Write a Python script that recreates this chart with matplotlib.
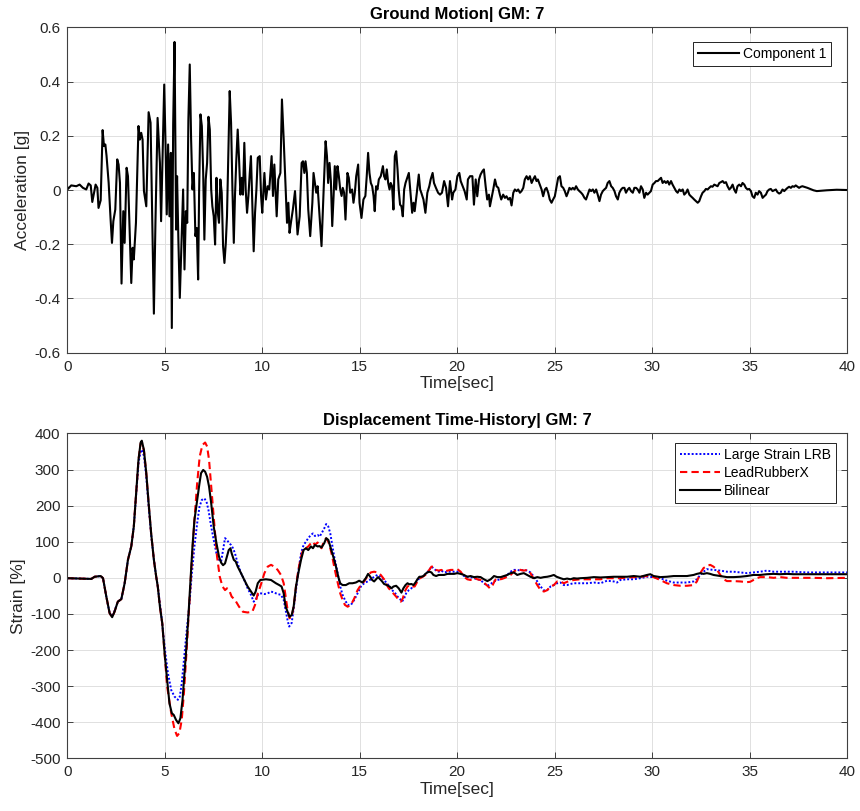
import numpy as np
import matplotlib
matplotlib.use("Agg")
import matplotlib.pyplot as plt

plt.rcParams['font.family'] = ['Liberation Sans', 'DejaVu Sans']
plt.rcParams['axes.unicode_minus'] = False

# ground motion record, GM 7, component 1: (time [s], acceleration [g])
gm_strong = [
    (0.00, 0.010), (0.03, 0.004), (0.20, 0.017), (0.46, 0.014), (0.63, 0.020), (0.80, 0.008),
    (0.97, 0.002), (1.09, 0.024), (1.20, 0.017), (1.28, -0.044), (1.37, -0.010), (1.45, 0.020),
    (1.54, 0.008), (1.60, -0.066), (1.71, -0.038), (1.81, 0.221), (1.88, 0.162), (1.95, 0.168),
    (2.01, 0.127), (2.12, 0.026), (2.22, -0.109), (2.29, -0.195), (2.36, -0.115), (2.46, -0.072),
    (2.56, 0.113), (2.63, 0.094), (2.70, 0.026), (2.78, -0.345), (2.87, -0.078), (2.94, -0.195),
    (3.04, 0.082), (3.11, 0.051), (3.19, -0.133), (3.28, -0.343), (3.35, -0.213), (3.41, -0.256),
    (3.52, -0.121), (3.65, 0.236), (3.72, 0.186), (3.79, 0.211), (3.86, 0.186), (3.93, -0.004),
    (4.05, -0.060), (4.17, 0.287), (4.27, 0.248), (4.44, -0.456), (4.52, -0.121), (4.63, 0.266),
    (4.75, 0.100), (4.81, -0.115), (4.90, 0.174), (4.97, 0.389), (5.04, 0.162), (5.10, -0.090),
    (5.17, 0.168), (5.24, -0.097), (5.31, 0.137), (5.36, -0.509), (5.43, 0.242), (5.50, 0.546),
    (5.58, -0.146), (5.63, 0.051), (5.70, -0.195), (5.77, -0.398), (5.87, -0.170), (5.94, 0.002),
    (6.01, -0.293), (6.08, -0.078), (6.15, -0.121), (6.21, 0.260), (6.28, 0.463), (6.35, 0.186),
    (6.42, 0.002), (6.49, 0.063), (6.57, -0.170), (6.64, -0.140), (6.71, -0.330), (6.76, -0.010),
    (6.83, 0.279), (6.90, 0.236), (6.97, 0.063), (7.03, -0.183), (7.10, 0.039), (7.17, 0.100),
    (7.24, 0.270), (7.31, 0.223), (7.38, 0.002), (7.44, -0.060), (7.51, -0.097), (7.58, -0.201),
    (7.65, 0.045), (7.72, -0.084), (7.78, -0.121), (7.85, 0.039), (7.92, -0.010), (7.99, -0.207),
    (8.06, -0.269), (8.13, -0.195), (8.19, -0.097), (8.26, 0.125), (8.33, 0.365), (8.40, 0.248),
    (8.47, 0.002), (8.54, -0.195), (8.60, -0.022), (8.67, 0.113), (8.74, 0.223), (8.81, 0.113),
    (8.88, -0.017), (8.95, 0.045), (9.01, -0.017), (9.08, 0.174), (9.15, 0.002), (9.22, -0.084),
    (9.29, -0.022), (9.36, 0.063), (9.42, 0.125), (9.49, -0.047), (9.56, -0.226), (9.63, -0.084),
    (9.70, 0.002), (9.77, 0.119), (9.87, 0.125), (9.94, -0.022),
]
gm_mid = [
    (10.00, -0.084), (10.11, 0.063), (10.19, -0.035), (10.28, 0.014), (10.36, 0.002), (10.48, 0.125),
    (10.55, -0.022), (10.62, 0.094), (10.74, -0.097), (10.82, 0.039), (10.93, 0.063), (11.01, 0.334),
    (11.10, 0.186), (11.20, 0.002), (11.27, -0.121), (11.34, -0.047), (11.40, -0.158), (11.47, -0.121),
    (11.57, -0.072), (11.68, -0.004), (11.75, -0.090), (11.81, -0.164), (11.92, -0.097), (12.02, 0.100),
    (12.09, 0.106), (12.16, 0.063), (12.22, 0.106), (12.29, 0.063), (12.36, -0.072), (12.46, -0.170),
    (12.57, -0.047), (12.63, 0.063), (12.70, 0.026), (12.77, -0.010), (12.84, 0.014), (12.94, -0.097),
    (13.04, -0.207), (13.15, 0.002), (13.25, 0.180), (13.32, 0.125), (13.38, 0.026), (13.45, 0.100),
    (13.52, 0.033), (13.59, -0.133), (13.66, -0.022), (13.72, 0.088), (13.79, 0.002), (13.86, 0.088),
    (13.93, 0.051), (14.00, 0.002), (14.07, -0.022), (14.13, 0.008), (14.20, -0.010), (14.27, -0.109),
    (14.37, 0.063), (14.44, 0.045), (14.51, -0.010), (14.61, 0.002), (14.68, -0.047), (14.75, -0.010),
    (14.82, 0.051), (14.92, 0.094), (14.99, -0.047), (15.09, -0.103), (15.19, -0.035), (15.29, -0.022),
    (15.36, 0.051), (15.43, 0.137), (15.50, 0.063), (15.57, 0.026), (15.64, 0.014), (15.71, -0.022),
    (15.77, -0.078), (15.84, 0.014), (15.91, 0.002), (15.98, 0.039), (16.08, 0.051), (16.19, 0.088),
    (16.25, 0.051), (16.32, 0.039), (16.39, 0.076), (16.46, 0.026), (16.53, 0.002), (16.59, 0.026),
    (16.66, 0.014), (16.73, -0.072), (16.80, 0.125), (16.87, 0.143), (16.94, 0.076), (17.00, 0.002),
    (17.07, -0.054), (17.14, -0.060), (17.21, -0.097), (17.28, 0.002), (17.35, 0.026), (17.41, 0.039),
    (17.52, 0.063), (17.59, 0.002), (17.69, -0.084), (17.76, -0.047), (17.82, -0.078), (17.93, -0.010),
    (18.03, 0.057), (18.10, 0.002), (18.16, -0.010), (18.27, -0.035), (18.37, -0.084), (18.47, -0.010),
    (18.57, 0.014), (18.64, 0.039), (18.74, 0.063), (18.81, 0.026), (18.91, 0.008), (19.02, -0.010),
    (19.12, -0.017), (19.22, -0.010), (19.33, 0.033), (19.43, 0.008), (19.53, -0.060), (19.63, 0.033),
    (19.74, -0.035), (19.80, -0.010), (19.91, 0.002), (20.01, 0.051), (20.11, 0.063), (20.18, 0.033),
    (20.28, 0.014), (20.38, -0.004), (20.49, -0.035), (20.55, 0.039), (20.66, 0.051),
]
gm_tail = [
    (20.78, 0.051), (20.86, -0.054), (20.95, 0.039), (21.03, -0.023), (21.12, 0.039), (21.20, 0.057),
    (21.29, 0.069), (21.37, 0.076), (21.46, 0.014), (21.54, -0.035), (21.63, -0.017), (21.68, -0.060),
    (21.75, -0.035), (21.85, 0.002), (21.94, 0.039), (22.02, 0.014), (22.11, 0.008), (22.19, -0.017),
    (22.26, -0.035), (22.36, -0.017), (22.45, -0.029), (22.53, -0.023), (22.62, -0.035), (22.71, -0.029),
    (22.79, -0.057), (22.88, -0.010), (22.96, 0.002), (23.05, -0.004), (23.13, 0.002), (23.22, -0.010),
    (23.30, -0.004), (23.39, 0.008), (23.47, 0.039), (23.56, 0.051), (23.64, 0.039), (23.73, 0.051),
    (23.82, 0.026), (23.90, 0.039), (23.99, 0.051), (24.07, 0.033), (24.14, 0.039), (24.24, 0.020),
    (24.33, 0.002), (24.41, -0.023), (24.50, 0.002), (24.58, 0.008), (24.67, -0.010), (24.75, -0.035),
    (24.84, -0.047), (24.92, -0.035), (25.01, -0.023), (25.10, 0.014), (25.18, 0.045), (25.27, 0.051),
    (25.35, 0.014), (25.44, 0.008), (25.52, -0.004), (25.61, -0.023), (25.68, -0.010), (25.76, 0.008),
    (25.85, 0.002), (25.93, 0.008), (26.02, 0.002), (26.10, 0.014), (26.19, 0.002), (26.27, -0.004),
    (26.36, -0.010), (26.44, -0.017), (26.53, -0.029), (26.61, -0.035), (26.70, -0.017), (26.79, 0.002),
    (26.87, -0.004), (26.96, 0.002), (27.04, -0.010), (27.13, 0.002), (27.21, -0.017), (27.30, -0.041),
    (27.38, -0.017), (27.47, -0.004), (27.55, 0.002), (27.64, 0.008), (27.72, 0.026), (27.81, 0.033),
    (27.90, 0.014), (27.98, 0.008), (28.07, -0.004), (28.15, -0.023), (28.24, -0.035), (28.32, -0.010),
    (28.41, 0.002), (28.49, 0.008), (28.58, 0.008), (28.66, -0.010), (28.75, 0.002), (28.83, 0.008),
    (28.92, -0.004), (29.01, -0.010), (29.09, 0.008), (29.18, 0.008), (29.26, 0.002), (29.35, -0.010),
    (29.43, 0.014), (29.52, 0.002), (29.60, -0.029), (29.69, -0.010), (29.77, -0.017), (29.86, -0.010),
    (29.94, -0.004), (30.03, 0.020), (30.12, 0.026), (30.20, 0.033), (30.29, 0.033), (30.37, 0.039),
    (30.46, 0.045), (30.54, 0.026), (30.63, 0.033), (30.71, 0.026), (30.80, 0.033), (30.88, 0.020),
    (30.97, 0.033), (31.05, 0.020), (31.14, 0.008), (31.23, -0.004), (31.31, -0.010), (31.40, 0.002),
    (31.48, -0.004), (31.57, 0.002), (31.65, -0.017), (31.74, -0.010), (31.82, 0.002), (31.91, -0.017),
    (31.99, -0.023), (32.08, -0.029), (32.16, -0.035), (32.25, -0.041), (32.34, -0.047), (32.42, -0.041),
    (32.51, -0.023), (32.59, -0.010), (32.68, -0.004), (32.76, 0.004), (32.85, 0.002), (32.93, 0.008),
    (33.02, 0.014), (33.10, 0.012), (33.19, 0.020), (33.27, 0.017), (33.36, 0.014), (33.45, 0.026),
    (33.53, 0.029), (33.62, 0.033), (33.70, 0.026), (33.79, 0.029), (33.87, 0.014), (33.96, 0.002),
    (34.04, 0.008), (34.13, 0.020), (34.21, 0.002), (34.30, -0.010), (34.38, 0.014), (34.47, 0.020),
    (34.56, 0.014), (34.64, 0.026), (34.73, 0.020), (34.81, 0.008), (34.90, 0.002), (34.98, 0.004),
    (35.07, -0.004), (35.15, -0.023), (35.24, -0.029), (35.32, -0.010), (35.41, -0.017), (35.49, -0.004),
    (35.58, -0.010), (35.67, -0.029), (35.75, -0.023), (35.84, -0.017), (35.92, -0.004), (36.01, 0.002),
    (36.09, 0.004), (36.18, -0.004), (36.26, -0.001), (36.35, 0.002), (36.43, -0.008), (36.52, -0.013),
    (36.60, -0.010), (36.69, 0.002), (36.78, -0.004), (36.86, 0.002), (36.95, 0.008), (37.03, 0.012),
    (37.12, 0.008), (37.20, 0.014), (37.29, 0.012), (37.37, 0.017), (37.46, 0.012), (37.54, 0.008),
    (37.63, 0.012), (37.71, 0.014), (37.80, 0.012), (37.89, 0.010), (37.97, 0.008), (38.11, 0.004),
    (38.28, -0.001), (38.45, -0.004), (38.62, -0.003), (38.96, -0.001), (39.47, 0.001), (40.00, 0.000),
]

# isolator shear strain histories: (time [s], strain [%])
strain_lrb = [
    (0.00, -1), (0.72, -2), (1.23, -3), (1.40, 3), (1.71, 5), (1.83, -1), (2.00, -52), (2.17, -98),
    (2.30, -107), (2.42, -92), (2.59, -66), (2.77, -59), (2.94, -15), (3.11, 50), (3.28, 87), (3.41, 142),
    (3.53, 230), (3.65, 318), (3.76, 350), (3.82, 355), (3.93, 338), (4.05, 280), (4.17, 200), (4.30, 120),
    (4.44, 50), (4.56, 3), (4.64, -24), (4.81, -98), (4.99, -191), (5.16, -264), (5.33, -311), (5.50, -329),
    (5.67, -338), (5.77, -329), (5.87, -292), (5.98, -228), (6.11, -154), (6.25, -80), (6.39, 13), (6.52, 87),
    (6.66, 151), (6.78, 197), (6.90, 216), (7.03, 220), (7.14, 211), (7.24, 188), (7.38, 142), (7.51, 105),
    (7.65, 68), (7.78, 50), (7.89, 45), (7.99, 77), (8.09, 110), (8.19, 105), (8.30, 96), (8.40, 91),
    (8.50, 82), (8.60, 68), (8.74, 40), (8.91, 13), (9.08, -6), (9.25, -29), (9.42, -47), (9.56, -66),
    (9.66, -61), (9.80, -45), (9.94, -43), (10.11, -45), (10.28, -43), (10.45, -38), (10.62, -41),
    (10.79, -45), (10.96, -47), (11.10, -61), (11.20, -89), (11.30, -118), (11.38, -135), (11.51, -125),
    (11.61, -85), (11.73, -34), (11.85, 17), (11.99, 68), (12.12, 91), (12.24, 100), (12.36, 110),
    (12.50, 119), (12.60, 123), (12.70, 116), (12.84, 119), (12.94, 114), (13.04, 123), (13.18, 137),
    (13.28, 149), (13.39, 142), (13.49, 123), (13.59, 91), (13.69, 59), (13.80, 31), (13.90, 3),
    (14.00, -24), (14.12, -47), (14.24, -61), (14.38, -75), (14.55, -75), (14.72, -61), (14.89, -43),
    (15.06, -24), (15.23, -15), (15.40, -10), (15.57, -4), (15.74, 3), (15.91, 8), (16.08, 3), (16.25, -6),
    (16.39, -15), (16.53, -24), (16.66, -34), (16.80, -41), (16.94, -52), (17.07, -59), (17.17, -66),
    (17.28, -57), (17.38, -43), (17.52, -34), (17.65, -29), (17.79, -20), (17.93, -10), (18.06, -1),
    (18.20, 3), (18.34, 8), (18.47, 15), (18.57, 22), (18.68, 31), (18.78, 27), (18.92, 20), (19.05, 17),
    (19.19, 20), (19.33, 15), (19.50, 17), (19.67, 17), (19.84, 17), (20.01, 17), (20.18, 13), (20.35, 5),
    (20.52, 3), (20.69, 2), (20.86, -1), (21.03, -4), (21.20, -6), (21.37, -15), (21.55, -22), (21.72, -17),
    (21.89, -10), (22.06, -6), (22.23, -4), (22.40, 2), (22.57, 8), (22.74, 17), (22.91, 22), (23.08, 22),
    (23.25, 20), (23.42, 22), (23.59, 20), (23.76, 15), (23.94, 3), (24.11, -10), (24.28, -24), (24.45, -35),
    (24.62, -34), (24.79, -24), (24.96, -20), (25.13, -15), (25.30, -13), (25.47, -20), (25.64, -20),
    (25.81, -17), (25.98, -15), (26.33, -15), (26.67, -15), (27.01, -13), (27.35, -15), (27.69, -8),
    (28.03, -10), (28.20, -13), (28.37, -6), (28.72, -4), (29.06, -4), (29.40, -1), (29.74, 3), (30.08, 2),
    (30.42, -1), (30.76, -8), (31.11, -13), (31.45, -13), (31.79, -13), (32.13, -10), (32.30, -4),
    (32.47, 8), (32.64, 17), (32.81, 24), (33.15, 22), (33.50, 20), (33.84, 17), (34.18, 17), (34.52, 15),
    (34.86, 13), (35.20, 15), (35.54, 17), (35.89, 20), (36.23, 17), (36.57, 17), (37.25, 17), (37.93, 15),
    (38.62, 15), (39.30, 15), (40.00, 15),
]
strain_lrx = [
    (0.00, -1), (0.72, -2), (1.23, -3), (1.40, 3), (1.71, 5), (1.83, -1), (2.00, -52), (2.17, -98),
    (2.30, -109), (2.42, -94), (2.59, -66), (2.77, -59), (2.94, -15), (3.11, 50), (3.28, 87), (3.41, 142),
    (3.53, 234), (3.65, 327), (3.76, 372), (3.82, 377), (3.93, 352), (4.05, 290), (4.17, 207), (4.30, 123),
    (4.44, 50), (4.56, 3), (4.64, -24), (4.75, -80), (4.87, -126), (5.12, -301), (5.33, -375), (5.50, -420),
    (5.63, -438), (5.75, -430), (5.87, -393), (5.98, -320), (6.11, -209), (6.25, -80), (6.39, 50),
    (6.52, 160), (6.66, 262), (6.79, 336), (6.93, 368), (7.07, 375), (7.17, 364), (7.27, 327), (7.41, 234),
    (7.55, 142), (7.68, 59), (7.82, 3), (7.96, -24), (8.09, -34), (8.19, -29), (8.30, -34), (8.43, -52),
    (8.60, -61), (8.81, -80), (9.01, -94), (9.25, -96), (9.49, -94), (9.63, -75), (9.77, -43), (9.90, -24),
    (10.11, 13), (10.28, 31), (10.45, 36), (10.62, 31), (10.79, 22), (10.96, 8), (11.10, -15), (11.20, -52),
    (11.30, -89), (11.40, -112), (11.51, -108), (11.61, -80), (11.73, -24), (11.85, 22), (11.99, 59),
    (12.12, 82), (12.24, 82), (12.36, 87), (12.50, 96), (12.60, 100), (12.70, 91), (12.84, 98), (12.94, 88),
    (13.04, 82), (13.18, 105), (13.28, 109), (13.39, 100), (13.49, 82), (13.59, 59), (13.69, 31), (13.80, 3),
    (13.90, -20), (14.00, -43), (14.12, -61), (14.24, -75), (14.38, -80), (14.55, -75), (14.72, -57),
    (14.89, -34), (15.06, -20), (15.23, -10), (15.40, 5), (15.57, 15), (15.74, 17), (15.91, 15), (16.08, 8),
    (16.25, -4), (16.39, -20), (16.49, -29), (16.59, -35), (16.73, -43), (16.87, -52), (17.00, -61),
    (17.11, -66), (17.21, -57), (17.31, -38), (17.45, -24), (17.58, -20), (17.72, -24), (17.82, -24),
    (17.96, -10), (18.10, -1), (18.23, 3), (18.37, 8), (18.47, 17), (18.57, 22), (18.68, 31), (18.78, 31),
    (18.92, 22), (19.05, 20), (19.19, 22), (19.33, 17), (19.50, 20), (19.67, 22), (19.84, 22), (20.01, 24),
    (20.18, 17), (20.35, 3), (20.52, -4), (20.69, -6), (20.86, 2), (21.03, -4), (21.20, -6), (21.37, -13),
    (21.55, -22), (21.68, -29), (21.82, -20), (21.95, -6), (22.09, -1), (22.23, -4), (22.40, -1), (22.57, 3),
    (22.74, 8), (22.91, 17), (23.08, 24), (23.25, 22), (23.42, 20), (23.59, 22), (23.76, 13), (23.94, -4),
    (24.11, -20), (24.28, -34), (24.45, -38), (24.62, -34), (24.79, -24), (24.96, -20), (25.13, -10),
    (25.30, -10), (25.47, -15), (25.64, -11), (25.81, -8), (25.98, -6), (26.33, -4), (26.67, -4),
    (27.01, -4), (27.35, -4), (27.69, -1), (28.03, -1), (28.37, -1), (28.72, 1), (29.06, 2), (29.40, 3),
    (29.74, 5), (30.08, 2), (30.42, -6), (30.76, -15), (31.11, -20), (31.45, -22), (31.79, -22),
    (32.13, -20), (32.30, -10), (32.47, 13), (32.64, 27), (32.81, 33), (32.98, 36), (33.15, 31), (33.33, 22),
    (33.50, 8), (33.67, -4), (33.84, -9), (34.18, -9), (34.52, -10), (34.86, -12), (35.03, -11), (35.20, -6),
    (35.37, -1), (35.54, 2), (35.89, 2), (36.23, 0), (36.57, 2), (36.91, 0), (37.59, 0), (38.28, 0),
    (39.00, -1), (40.00, 0),
]
strain_bilinear = [
    (0.00, -1), (0.72, -2), (1.23, -3), (1.40, 3), (1.71, 5), (1.83, -1), (2.00, -52), (2.17, -98),
    (2.30, -109), (2.42, -94), (2.59, -66), (2.77, -59), (2.94, -15), (3.11, 50), (3.28, 87), (3.41, 142),
    (3.53, 234), (3.65, 327), (3.76, 375), (3.82, 380), (3.93, 354), (4.05, 290), (4.17, 207), (4.30, 123),
    (4.44, 50), (4.56, 3), (4.64, -24), (4.75, -80), (4.87, -126), (4.99, -209), (5.12, -283), (5.24, -348),
    (5.36, -375), (5.46, -380), (5.58, -394), (5.70, -403), (5.80, -389), (5.91, -338), (6.01, -264),
    (6.11, -191), (6.21, -107), (6.32, -6), (6.42, 87), (6.52, 160), (6.66, 216), (6.78, 262), (6.86, 290),
    (6.97, 299), (7.07, 294), (7.17, 280), (7.27, 253), (7.38, 207), (7.51, 142), (7.65, 96), (7.78, 59),
    (7.89, 42), (7.99, 35), (8.09, 40), (8.19, 59), (8.28, 77), (8.37, 82), (8.43, 68), (8.54, 50),
    (8.64, 45), (8.74, 31), (8.91, 13), (9.08, -6), (9.25, -24), (9.42, -38), (9.56, -49), (9.66, -38),
    (9.77, -15), (9.90, -6), (10.19, -4), (10.45, -6), (10.70, -15), (10.87, -20), (10.99, -24),
    (11.10, -43), (11.20, -80), (11.30, -94), (11.40, -108), (11.51, -103), (11.61, -80), (11.73, -24),
    (11.85, 13), (11.99, 50), (12.12, 77), (12.24, 82), (12.36, 77), (12.50, 87), (12.60, 82), (12.70, 91),
    (12.84, 87), (12.94, 88), (13.04, 84), (13.18, 96), (13.28, 110), (13.39, 105), (13.49, 87), (13.59, 68),
    (13.69, 50), (13.80, 27), (13.90, 3), (14.00, -15), (14.12, -20), (14.29, -20), (14.46, -15),
    (14.63, -15), (14.80, -13), (14.97, -8), (15.14, -13), (15.31, -1), (15.43, 11), (15.54, 3), (15.64, -6),
    (15.74, -10), (15.84, -4), (15.94, 2), (16.05, -4), (16.15, -10), (16.25, -17), (16.39, -20),
    (16.53, -24), (16.63, -29), (16.73, -24), (16.87, -22), (17.00, -29), (17.14, -41), (17.24, -29),
    (17.35, -20), (17.45, -15), (17.55, -18), (17.65, -17), (17.76, -20), (17.86, -13), (17.96, -4),
    (18.06, 3), (18.16, 3), (18.27, 5), (18.37, 11), (18.47, 15), (18.57, 17), (18.68, 15), (18.78, 8),
    (18.92, 5), (19.05, 8), (19.19, 8), (19.33, 8), (19.50, 11), (19.67, 11), (19.84, 11), (20.01, 13),
    (20.18, 11), (20.35, 8), (20.52, 3), (20.69, 5), (20.86, 2), (21.03, 3), (21.20, 2), (21.37, -4),
    (21.55, -9), (21.72, -4), (21.89, 5), (22.06, 2), (22.23, 2), (22.40, 5), (22.57, 8), (22.74, 13),
    (22.91, 15), (23.08, 8), (23.25, 11), (23.42, 13), (23.59, 8), (23.76, 3), (23.94, -1), (24.11, 2),
    (24.28, 0), (24.45, 2), (24.62, 3), (24.79, 5), (24.96, 8), (25.10, 3), (25.30, -1), (25.47, -4),
    (25.64, -2), (25.81, -4), (25.98, -1), (26.15, -2), (26.33, -1), (26.67, 0), (27.01, 2), (27.35, 1),
    (27.69, 2), (28.03, 3), (28.37, 3), (28.72, 3), (29.06, 5), (29.40, 3), (29.74, 8), (29.91, 10),
    (30.08, 5), (30.42, 2), (30.76, 3), (31.11, 5), (31.45, 5), (31.79, 5), (32.13, 8), (32.30, 11),
    (32.47, 13), (32.64, 11), (32.81, 13), (32.98, 11), (33.15, 8), (33.50, 5), (33.84, 2), (34.18, 2),
    (34.52, 3), (34.86, 5), (35.20, 8), (35.54, 8), (35.89, 10), (36.23, 11), (36.57, 10), (36.91, 11),
    (37.25, 10), (38.00, 10), (39.00, 10), (40.00, 10),
]

gm_id = 7
acc_ticks = [-0.6, -0.4, -0.2, 0, 0.2, 0.4, 0.6]
acc_ticklabels = ['-0.6', '-0.4', '-0.2', '0', '0.2', '0.4', '0.6']
strain_ticks = [-500, -400, -300, -200, -100, 0, 100, 200, 300, 400]
time_ticks = [0, 5, 10, 15, 20, 25, 30, 35, 40]

gm = np.array(gm_strong + gm_mid + gm_tail)
lrb = np.array(strain_lrb)
lrx = np.array(strain_lrx)
bil = np.array(strain_bilinear)

axis_col = '#262626'
fig = plt.figure(figsize=(8.6, 8.11), dpi=100)
ax1 = fig.add_axes([0.0783, 0.5651, 0.9066, 0.4012])
ax2 = fig.add_axes([0.0783, 0.0650, 0.9066, 0.4005])


def matlab_style(ax):
    ax.grid(True, color='#e0e0e0', linewidth=0.7)
    ax.set_axisbelow(True)
    ax.tick_params(direction='in', length=4, width=0.6, top=True, right=True,
                   labelsize=11, colors=axis_col, pad=5)
    for sp in ax.spines.values():
        sp.set_color('#404040')
        sp.set_linewidth(0.8)
    ax.set_xlim(0, 40)
    ax.set_xticks(time_ticks)
    ax.set_xlabel('Time[sec]', fontsize=12.5, color=axis_col, labelpad=2)


# ground motion
ax1.plot(gm[:, 0], gm[:, 1], color='black', linewidth=1.5, label='Component 1')
matlab_style(ax1)
ax1.set_ylim(-0.6, 0.6)
ax1.set_yticks(acc_ticks)
ax1.set_yticklabels(acc_ticklabels)
ax1.set_ylabel('Acceleration [g]', fontsize=12.5, color=axis_col, labelpad=3)
ax1.set_title(f'Ground Motion| GM: {gm_id}', fontsize=12, fontweight='bold', pad=6)
leg1 = ax1.legend(loc='upper right', bbox_to_anchor=(0.9795, 0.955), borderaxespad=0,
                  fontsize=10, fancybox=False, edgecolor='black', framealpha=1,
                  handlelength=2.9, handletextpad=0.3, borderpad=0.35)
leg1.get_frame().set_linewidth(0.6)

# displacement responses
ax2.plot(lrb[:, 0], lrb[:, 1], color='blue', linestyle=(0, (1, 1)), linewidth=1.4,
         label='Large Strain LRB')
ax2.plot(lrx[:, 0], lrx[:, 1], color='red', linestyle=(0, (3.5, 2)), linewidth=1.5,
         label='LeadRubberX')
ax2.plot(bil[:, 0], bil[:, 1], color='black', linewidth=1.5, label='Bilinear')
matlab_style(ax2)
ax2.set_ylim(-500, 400)
ax2.set_yticks(strain_ticks)
ax2.set_ylabel('Strain [%]', fontsize=12.5, color=axis_col, labelpad=3)
ax2.set_title(f'Displacement Time-History| GM: {gm_id}', fontsize=12, fontweight='bold', pad=6)
leg2 = ax2.legend(loc='upper right', bbox_to_anchor=(0.986, 0.971), borderaxespad=0,
                  fontsize=10, fancybox=False, edgecolor='black', framealpha=1,
                  handlelength=2.9, handletextpad=0.3, borderpad=0.35, labelspacing=0.3)
leg2.get_frame().set_linewidth(0.6)

fig.savefig('out.png', dpi=100)
